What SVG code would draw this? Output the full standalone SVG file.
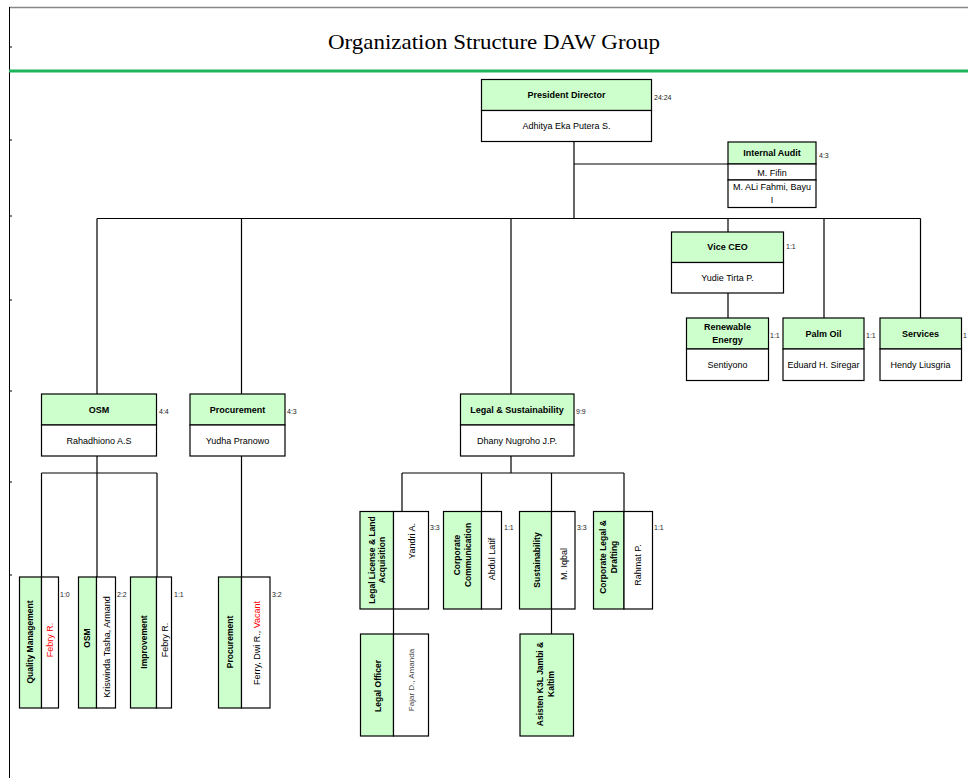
<svg xmlns="http://www.w3.org/2000/svg" width="968" height="778" viewBox="0 0 968 778">
<style>
.hd{fill:#ccffcc;stroke:#000;stroke-width:1.2}
.bd{fill:#fff;stroke:#000;stroke-width:1.2}
.ln{stroke:#000;stroke-width:1.2;fill:none}
text{font-family:"Liberation Sans",Arial,sans-serif;fill:#000;dominant-baseline:central}
.h{font-size:8.5px;font-weight:bold;text-anchor:middle}
.hh{font-size:9px}
.t{font-size:9px;text-anchor:middle}
.r{font-size:7px;fill:#222}
.red{fill:#ff0000}
.gr{fill:#444}
</style>
<rect x="0" y="0" width="968" height="778" fill="#fff"/>
<g id="frame">
<line x1="9" y1="7.5" x2="968" y2="7.5" stroke="#888" stroke-width="1.5"/>
<line x1="9.5" y1="7" x2="9.5" y2="778" stroke="#000" stroke-width="1"/>
<line x1="9" y1="71" x2="968" y2="71" stroke="#1fb45a" stroke-width="3"/>
<g stroke="#000" stroke-width="1">
<line x1="9.5" y1="47" x2="12" y2="47"/><line x1="9.5" y1="140" x2="12" y2="140"/><line x1="9.5" y1="216" x2="12" y2="216"/><line x1="9.5" y1="300" x2="12" y2="300"/><line x1="9.5" y1="391" x2="12" y2="391"/><line x1="9.5" y1="482" x2="12" y2="482"/><line x1="9.5" y1="575" x2="12" y2="575"/>
</g>
<text x="494" y="42" text-anchor="middle" style="font-family:'Liberation Serif','Times New Roman',serif;font-size:21px" textLength="332" lengthAdjust="spacingAndGlyphs">Organization Structure DAW Group</text>
</g>
<g id="connectors" class="ln">
<path d="M574 141.5V218.5M574 164H728M97 218.5H920.5M97 218.5V394M241.5 218.5V394M511 218.5V394M728 218.5V232M824 218.5V318M920.5 218.5V318M728 293V318"/>
<path d="M97 456V473M41.5 473H157M41.5 473V577M97 473V577M157 473V577M241.5 456V577"/>
<path d="M511 456V473M402 473H624M402 473V511.5M481.5 473V511.5M551.5 473V511.5M624 473V511.5M393.5 609V634M551.5 609V634"/>
</g>
<g id="president">
<rect class="hd" x="481.5" y="79.5" width="170" height="31"/>
<rect class="bd" x="481.5" y="110.5" width="170" height="31"/>
<text class="h hh" x="566.5" y="95">President Director</text>
<text class="t" x="566.5" y="126">Adhitya Eka Putera S.</text>
<text class="r" x="654" y="97">24:24</text>
</g>
<g id="internal-audit">
<rect class="hd" x="728" y="142" width="88" height="22"/>
<rect class="bd" x="728" y="164" width="88" height="16"/>
<rect class="bd" x="728" y="180" width="88" height="27.5"/>
<text class="h hh" x="772" y="153">Internal Audit</text>
<text class="t" x="772" y="172.5">M. Fifin</text>
<text class="t" x="772" y="187">M. ALi Fahmi, Bayu</text>
<text class="t" x="772" y="200">I</text>
<text class="r" x="819" y="155">4:3</text>
</g>
<g id="vice-ceo">
<rect class="hd" x="671.5" y="232" width="112" height="30.5"/>
<rect class="bd" x="671.5" y="262.5" width="112" height="30.5"/>
<text class="h hh" x="727.5" y="247">Vice CEO</text>
<text class="t" x="727.5" y="278">Yudie Tirta P.</text>
<text class="r" x="786" y="246">1:1</text>
</g>
<g id="renewable">
<rect class="hd" x="686.5" y="318" width="82" height="31"/>
<rect class="bd" x="686.5" y="349" width="82" height="31.5"/>
<text class="h hh" x="727.5" y="327">Renewable</text>
<text class="h hh" x="727.5" y="340">Energy</text>
<text class="t" x="727.5" y="365">Sentiyono</text>
<text class="r" x="770" y="335">1:1</text>
</g>
<g id="palm-oil">
<rect class="hd" x="783" y="318" width="81" height="31"/>
<rect class="bd" x="783" y="349" width="81" height="31.5"/>
<text class="h hh" x="823.5" y="334">Palm Oil</text>
<text class="t" x="823.5" y="365">Eduard H. Siregar</text>
<text class="r" x="866" y="335">1:1</text>
</g>
<g id="services">
<rect class="hd" x="880" y="318" width="81.5" height="31"/>
<rect class="bd" x="880" y="349" width="81.5" height="31.5"/>
<text class="h hh" x="920.5" y="334">Services</text>
<text class="t" x="920.5" y="365">Hendy Liusgria</text>
<text class="r" x="963" y="335">1</text>
</g>
<g id="osm">
<rect class="hd" x="41.5" y="394" width="115" height="31"/>
<rect class="bd" x="41.5" y="425" width="115" height="31"/>
<text class="h hh" x="99" y="410">OSM</text>
<text class="t" x="99" y="441">Rahadhiono A.S</text>
<text class="r" x="159" y="411">4:4</text>
</g>
<g id="procurement">
<rect class="hd" x="190" y="394" width="95" height="31"/>
<rect class="bd" x="190" y="425" width="95" height="31"/>
<text class="h hh" x="237.5" y="410">Procurement</text>
<text class="t" x="237.5" y="441">Yudha Pranowo</text>
<text class="r" x="287" y="411">4:3</text>
</g>
<g id="legal-sustainability">
<rect class="hd" x="460.5" y="394" width="113.5" height="31"/>
<rect class="bd" x="460.5" y="425" width="113.5" height="31"/>
<text class="h hh" x="517" y="410">Legal &amp; Sustainability</text>
<text class="t" x="517" y="441">Dhany Nugroho J.P.</text>
<text class="r" x="576" y="411">9:9</text>
</g>
<g id="quality-management">
<rect class="hd" x="19.5" y="577" width="22" height="131"/>
<rect class="bd" x="41.5" y="577" width="17" height="131"/>
<text class="h" transform="translate(30,642) rotate(-90)">Quality Management</text>
<text class="t red" transform="translate(50,640) rotate(-90)">Febry R.</text>
<text class="r" x="60" y="594">1:0</text>
</g>
<g id="osm-sub">
<rect class="hd" x="78.5" y="577" width="18" height="131"/>
<rect class="bd" x="96.5" y="577" width="19" height="131"/>
<text class="h" transform="translate(87,638) rotate(-90)">OSM</text>
<text class="t" transform="translate(106.5,647) rotate(-90)">Kriswinda Tasha, Armand</text>
<text class="r" x="117" y="594">2:2</text>
</g>
<g id="improvement">
<rect class="hd" x="130.5" y="577" width="26" height="131"/>
<rect class="bd" x="156.5" y="577" width="15" height="131"/>
<text class="h" transform="translate(143.5,642) rotate(-90)">Improvement</text>
<text class="t" transform="translate(164.5,640) rotate(-90)">Febry R.</text>
<text class="r" x="174" y="594">1:1</text>
</g>
<g id="procurement-sub">
<rect class="hd" x="218.5" y="577" width="23" height="131"/>
<rect class="bd" x="241.5" y="577" width="28.5" height="131"/>
<text class="h" transform="translate(230,642) rotate(-90)">Procurement</text>
<text class="t" transform="translate(256.5,643) rotate(-90)">Ferry, Dwi R.,  <tspan class="red">Vacant</tspan></text>
<text class="r" x="272" y="594">3:2</text>
</g>
<g id="legal-license">
<rect class="hd" x="360" y="511.5" width="33.5" height="97.5"/>
<rect class="bd" x="393.5" y="511.5" width="35" height="97.5"/>
<text class="h" transform="translate(371.5,560) rotate(-90)">Legal License &amp; Land</text>
<text class="h" transform="translate(381.5,560) rotate(-90)">Acquisition</text>
<text class="t" transform="translate(411.5,541) rotate(-90)">Yandri A.</text>
<text class="r" x="430" y="527">3:3</text>
</g>
<g id="corporate-communication">
<rect class="hd" x="443.5" y="511.5" width="38" height="97.5"/>
<rect class="bd" x="481.5" y="511.5" width="20" height="97.5"/>
<text class="h" transform="translate(457,555) rotate(-90)">Corporate</text>
<text class="h" transform="translate(468,555) rotate(-90)">Communication</text>
<text class="t" transform="translate(491.5,559) rotate(-90)">Abdul Latif</text>
<text class="r" x="504" y="527">1:1</text>
</g>
<g id="sustainability">
<rect class="hd" x="519.5" y="511.5" width="32" height="97.5"/>
<rect class="bd" x="551.5" y="511.5" width="23.5" height="97.5"/>
<text class="h" transform="translate(536.5,560) rotate(-90)">Sustainability</text>
<text class="t" transform="translate(563.5,564) rotate(-90)">M. Iqbal</text>
<text class="r" x="577" y="527">3:3</text>
</g>
<g id="corporate-legal">
<rect class="hd" x="593.5" y="511.5" width="30.5" height="97.5"/>
<rect class="bd" x="624" y="511.5" width="28.5" height="97.5"/>
<text class="h" transform="translate(603,557) rotate(-90)">Corporate Legal &amp;</text>
<text class="h" transform="translate(614,557) rotate(-90)">Drafting</text>
<text class="t" transform="translate(638,565) rotate(-90)">Rahmat P.</text>
<text class="r" x="654" y="527">1:1</text>
</g>
<g id="legal-officer">
<rect class="hd" x="360.5" y="634" width="33" height="102"/>
<rect class="bd" x="393.5" y="634" width="35" height="102"/>
<text class="h" transform="translate(378,686) rotate(-90)">Legal Officer</text>
<text class="t gr" style="font-size:8px" transform="translate(411.5,680) rotate(-90)">Fajar D., Amanda</text>
</g>
<g id="asisten-k3l">
<rect class="hd" x="520" y="634" width="53.5" height="102"/>
<text class="h" transform="translate(540,684) rotate(-90)">Asisten K3L Jambi &amp;</text>
<text class="h" transform="translate(551,684) rotate(-90)">Kaltim</text>
</g>
</svg>
